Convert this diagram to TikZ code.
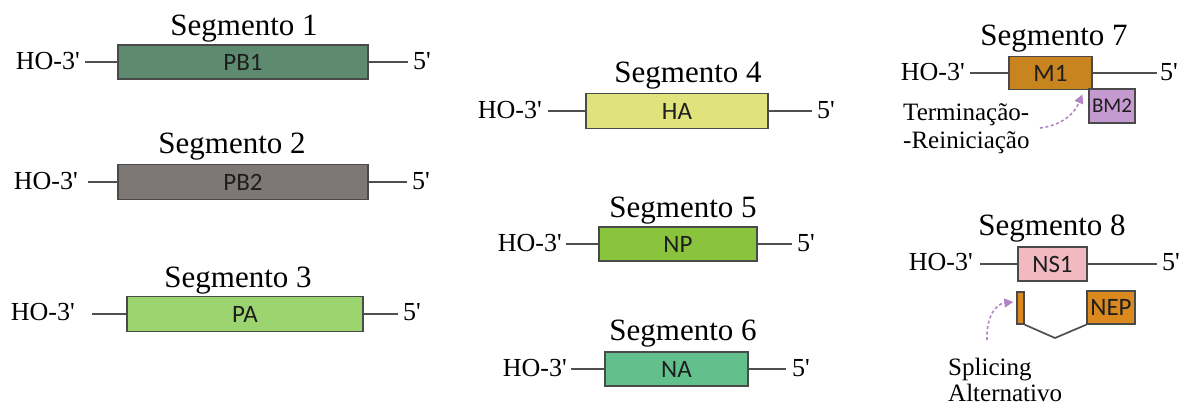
\documentclass[tikz,border=0pt]{standalone}
\usepackage{fontspec}
\setmainfont{Liberation Serif}[Ligatures=TeXOff]
\newfontfamily\boxfont{Carlito}
\usetikzlibrary{arrows.meta}
\definecolor{pbone}{HTML}{5E8B6F}
\definecolor{pbtwo}{HTML}{7D7875}
\definecolor{pacol}{HTML}{9CD46F}
\definecolor{hacol}{HTML}{E0E27C}
\definecolor{npcol}{HTML}{8AC43F}
\definecolor{nacol}{HTML}{62C08C}
\definecolor{mcol}{HTML}{C8841F}
\definecolor{bmcol}{HTML}{C49AD0}
\definecolor{nscol}{HTML}{F2B9C1}
\definecolor{nepcol}{HTML}{D9891D}
\definecolor{arrcol}{HTML}{B583C6}
\definecolor{bordercol}{HTML}{4A4A4A}
\definecolor{strandcol}{HTML}{4F4F4F}
\definecolor{boxtext}{HTML}{1E1E1E}
\begin{document}
\begin{tikzpicture}[x=1pt,y=-1pt,
  segtitle/.style={anchor=base, inner sep=0pt, font=\fontsize{31}{31}\selectfont},
  holab/.style={anchor=base east, inner sep=0pt, font=\fontsize{26}{26}\selectfont},
  fivelab/.style={anchor=base west, inner sep=0pt, font=\fontsize{26}{26}\selectfont},
  note/.style={anchor=base west, inner sep=0pt, font=\fontsize{25}{25}\selectfont},
  gene/.style={draw=bordercol, line width=1.3pt, inner sep=0pt, text=boxtext,
    font=\boxfont\fontsize{25}{25}\selectfont},
  strand/.style={draw=strandcol, line width=1.7pt},
  hint/.style={draw=arrcol, line width=1.6pt, dash pattern=on 3pt off 2.5pt,
    -{Triangle[length=9pt,width=9pt,fill=arrcol]}}
]
\fill[white] (0,0) rectangle (1184,410);
\useasboundingbox (0,0) rectangle (1184,410);

% Segmento 1
\node[segtitle] (t1) at (244,35) {Segmento 1};
\node[holab] (h1) at (80,69) {HO-3'};
\node[gene, fill=pbone, minimum width=250pt, minimum height=34pt] (b1) at (243,62) {PB1};
\node[fivelab] (f1) at (413,69) {5'};
\draw[strand] ([xshift=5pt]h1.east |- b1.west) -- (b1.west);
\draw[strand] (b1.east) -- ([xshift=-5pt]f1.west |- b1.east);

% Segmento 2
\node[segtitle] (t2) at (232,153) {Segmento 2};
\node[holab] (h2) at (78,189) {HO-3'};
\node[gene, fill=pbtwo, minimum width=250pt, minimum height=35pt] (b2) at (243,182) {PB2};
\node[fivelab] (f2) at (412,189) {5'};
\draw[strand] ([xshift=10pt]h2.east |- b2.west) -- (b2.west);
\draw[strand] (b2.east) -- ([xshift=-5pt]f2.west |- b2.east);

% Segmento 3
\node[segtitle] (t3) at (238,287) {Segmento 3};
\node[holab] (h3) at (75,320) {HO-3'};
\node[gene, fill=pacol, minimum width=236pt, minimum height=35pt] (b3) at (245,314) {PA};
\node[fivelab] (f3) at (403,320) {5'};
\draw[strand] ([xshift=17pt]h3.east |- b3.west) -- (b3.west);
\draw[strand] (b3.east) -- ([xshift=-5pt]f3.west |- b3.east);

% Segmento 4
\node[segtitle] (t4) at (688,82) {Segmento 4};
\node[holab] (h4) at (542,118) {HO-3'};
\node[gene, fill=hacol, minimum width=182pt, minimum height=35pt] (b4) at (677,111) {HA};
\node[fivelab] (f4) at (817,118) {5'};
\draw[strand] ([xshift=6pt]h4.east |- b4.west) -- (b4.west);
\draw[strand] (b4.east) -- ([xshift=-5pt]f4.west |- b4.east);

% Segmento 5
\node[segtitle] (t5) at (683,217) {Segmento 5};
\node[holab] (h5) at (562,251) {HO-3'};
\node[gene, fill=npcol, minimum width=158pt, minimum height=34pt] (b5) at (678,244) {NP};
\node[fivelab] (f5) at (797,251) {5'};
\draw[strand] ([xshift=4pt]h5.east |- b5.west) -- (b5.west);
\draw[strand] (b5.east) -- ([xshift=-5pt]f5.west |- b5.east);

% Segmento 6
\node[segtitle] (t6) at (683,340) {Segmento 6};
\node[holab] (h6) at (567,376) {HO-3'};
\node[gene, fill=nacol, minimum width=143pt, minimum height=34pt] (b6) at (676.5,369) {NA};
\node[fivelab] (f6) at (792,376) {5'};
\draw[strand] ([xshift=4pt]h6.east |- b6.west) -- (b6.west);
\draw[strand] (b6.east) -- ([xshift=-6pt]f6.west |- b6.east);

% Segmento 7
\node[segtitle] (t7) at (1054,45) {Segmento 7};
\node[holab] (h7) at (965,80) {HO-3'};
\node[gene, fill=mcol, minimum width=83pt, minimum height=33pt] (b7) at (1050.5,73) {M1};
\node[fivelab] (f7) at (1160,80) {5'};
\draw[strand] ([xshift=5pt]h7.east |- b7.west) -- (b7.west);
\draw[strand] (b7.east) -- ([xshift=-3pt]f7.west |- b7.east);
\node[gene, fill=bmcol, minimum width=46pt, minimum height=34pt,
  font=\boxfont\fontsize{21}{21}\selectfont] (bm) at (1112,106) {BM2};
\node[note] (n7a) at (903,120) {Terminação-};
\node[note] (n7b) at (903,148) {-Reiniciação};
\coordinate (s7) at (1040,128);
\draw[hint] (s7) .. controls (1064,125) and (1075,112) .. ([xshift=-6pt,yshift=-6pt]bm.north west);

% Segmento 8
\node[segtitle] (t8) at (1052,235) {Segmento 8};
\node[holab] (h8) at (973,270) {HO-3'};
\node[gene, fill=nscol, minimum width=69pt, minimum height=34pt] (b8) at (1052.5,264) {NS1};
\node[fivelab] (f8) at (1162,270) {5'};
\draw[strand] ([xshift=7pt]h8.east |- b8.west) -- (b8.west);
\draw[strand] (b8.east) -- ([xshift=-5pt]f8.west |- b8.east);
\node[gene, fill=nepcol, minimum width=7pt, minimum height=32pt] (bar) at (1020.5,308) {};
\node[gene, fill=nepcol, minimum width=48pt, minimum height=33pt] (nep) at (1111,307.5) {NEP};
\coordinate (v8) at (1055,338);
\draw[strand] (bar.south east) -- (v8) -- (nep.south west);
\node[note] (n8a) at (948,375) {Splicing};
\node[note] (n8b) at (948,401) {Alternativo};
\coordinate (s8) at (987,340);
\draw[hint] (s8) .. controls (986,318) and (995,304) .. ([xshift=-3pt,yshift=6pt]bar.west);
\end{tikzpicture}
\end{document}
